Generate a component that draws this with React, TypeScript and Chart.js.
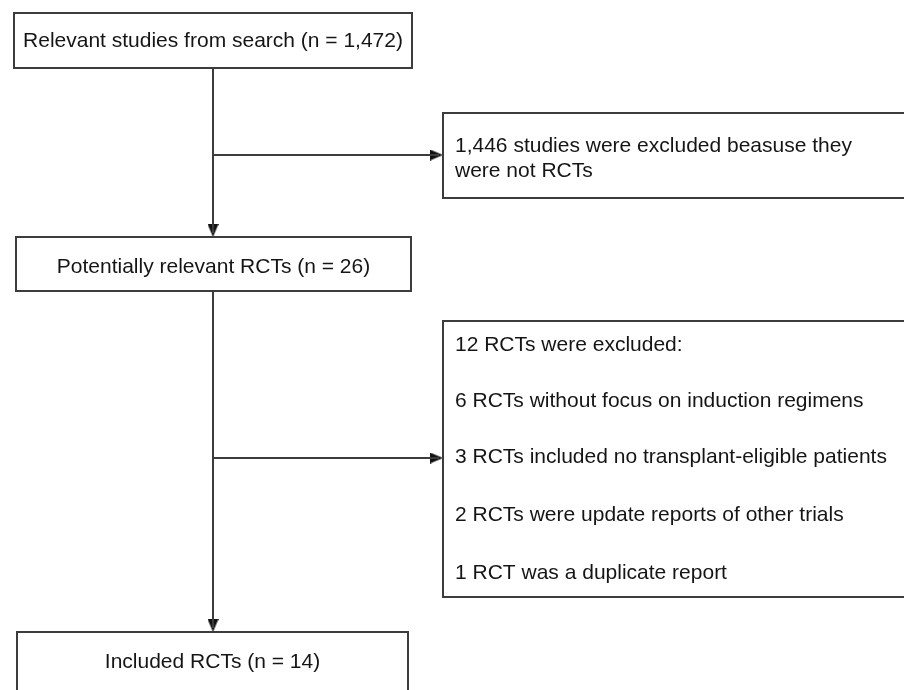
import React, { useEffect, useRef } from "react";
import { Chart, registerables } from "chart.js";

Chart.register(...registerables);

// ---- data ----
const stageLabels = ["Relevant studies from search", "Potentially relevant RCTs", "Included RCTs"];
const stageCounts = [1472, 26, 14];
const notRctExcluded = 1446;
const rctExcludedTotal = 12;
const exclusionCounts = [6, 3, 2, 1];
const exclusionReasons = [
  "RCTs without focus on induction regimens",
  "RCTs included no transplant-eligible patients",
  "RCTs were update reports of other trials",
  "RCT was a duplicate report",
];

// ---- layout (diagram coordinates, mapped through the chart's scales) ----
const W = 904;
const H = 690;
const spineX = 213;
const mainBoxes = [
  { x0: 14, x1: 412, y0: 13, y1: 68 },
  { x0: 16, x1: 411, y0: 237, y1: 291 },
  { x0: 17, x1: 408, y0: 632, y1: 720 },
];
const sideBoxes = [
  { x0: 443, x1: 905, y0: 113, y1: 198 },
  { x0: 443, x1: 905, y0: 321, y1: 597 },
];
const sideTextX = 455;
const sideLineYs = [
  [146, 171],
  [345, 401, 457, 515, 573],
];
const mainTextYs = [41, 267, 662];
const branchYs = [155, 458];
const arrowLen = 13;
const arrowWid = 11;

const fmt = (n: number) => n.toLocaleString("en-US");

const FONT = '21px "Liberation Sans", Arial, sans-serif';
const LINE = "#3c3c3c";
const TEXT = "#151515";

function makeArrowHead(): HTMLCanvasElement {
  // pointing down
  const c = document.createElement("canvas");
  c.width = arrowWid;
  c.height = arrowLen;
  const g = c.getContext("2d")!;
  g.fillStyle = "#111";
  g.beginPath();
  g.moveTo(0, 0);
  g.lineTo(arrowWid, 0);
  g.lineTo(arrowWid / 2, arrowLen);
  g.closePath();
  g.fill();
  return c;
}

export default function App() {
  const ref = useRef<HTMLCanvasElement | null>(null);

  useEffect(() => {
    document.body.style.margin = "0";
    const canvas = ref.current;
    if (!canvas) return;

    const mainTexts = stageLabels.map((l, i) => `${l} (n = ${fmt(stageCounts[i])})`);
    const sideTexts = [
      [`${fmt(notRctExcluded)} studies were excluded beasuse they`, "were not RCTs"],
      [
        `${rctExcludedTotal} RCTs were excluded:`,
        ...exclusionReasons.map((r, i) => `${exclusionCounts[i]} ${r}`),
      ],
    ];

    const head = makeArrowHead();

    const seg = (pts: { x: number; y: number }[]) => ({
      type: "line" as const,
      data: pts,
      showLine: true,
      borderColor: LINE,
      borderWidth: 2,
      pointRadius: 0,
      fill: false,
    });

    const datasets: any[] = [
      seg([{ x: spineX, y: mainBoxes[0].y1 }, { x: spineX, y: mainBoxes[1].y0 - 4 }]),
      seg([{ x: spineX, y: mainBoxes[1].y1 }, { x: spineX, y: mainBoxes[2].y0 - 4 }]),
      seg([{ x: spineX, y: branchYs[0] }, { x: sideBoxes[0].x0 - 4, y: branchYs[0] }]),
      seg([{ x: spineX, y: branchYs[1] }, { x: sideBoxes[1].x0 - 4, y: branchYs[1] }]),
      {
        type: "scatter",
        data: [
          { x: spineX, y: mainBoxes[1].y0 - arrowLen / 2 },
          { x: spineX, y: mainBoxes[2].y0 - arrowLen / 2 },
        ],
        pointStyle: head,
        rotation: 0,
        pointRadius: 7,
      },
      {
        type: "scatter",
        data: [
          { x: sideBoxes[0].x0 - arrowLen / 2, y: branchYs[0] },
          { x: sideBoxes[1].x0 - arrowLen / 2, y: branchYs[1] },
        ],
        pointStyle: head,
        rotation: -90,
        pointRadius: 7,
      },
    ];

    const boxPlugin = {
      id: "flowBoxes",
      afterDatasetsDraw(chart: any) {
        const { ctx, scales } = chart;
        const px = (v: number) => scales.x.getPixelForValue(v);
        const py = (v: number) => scales.y.getPixelForValue(v);
        ctx.save();
        ctx.strokeStyle = LINE;
        ctx.lineWidth = 2;
        [...mainBoxes, ...sideBoxes].forEach((b) => {
          ctx.strokeRect(px(b.x0), py(b.y0), px(b.x1) - px(b.x0), py(b.y1) - py(b.y0));
        });
        ctx.fillStyle = TEXT;
        ctx.font = FONT;
        ctx.textBaseline = "middle";
        ctx.textAlign = "center";
        mainBoxes.forEach((b, i) => {
          ctx.fillText(mainTexts[i], px((b.x0 + b.x1) / 2), py(mainTextYs[i]));
        });
        ctx.textAlign = "left";
        sideTexts.forEach((lines, i) => {
          lines.forEach((t, j) => ctx.fillText(t, px(sideTextX), py(sideLineYs[i][j])));
        });
        ctx.restore();
      },
    };

    const chart = new Chart(canvas, {
      type: "scatter",
      data: { datasets },
      options: {
        animation: false,
        responsive: false,
        maintainAspectRatio: false,
        layout: { padding: 0, autoPadding: false },
        plugins: { legend: { display: false }, tooltip: { enabled: false } },
        scales: {
          x: { type: "linear", min: 0, max: W, display: false },
          y: { type: "linear", min: 0, max: H, reverse: true, display: false },
        },
      },
      plugins: [boxPlugin],
    } as any);

    return () => chart.destroy();
  }, []);

  return (
    <div style={{ position: "absolute", left: 0, top: 0, width: W, height: H, background: "#fff" }}>
      <canvas ref={ref} width={W} height={H} style={{ display: "block", width: W, height: H }} />
    </div>
  );
}
